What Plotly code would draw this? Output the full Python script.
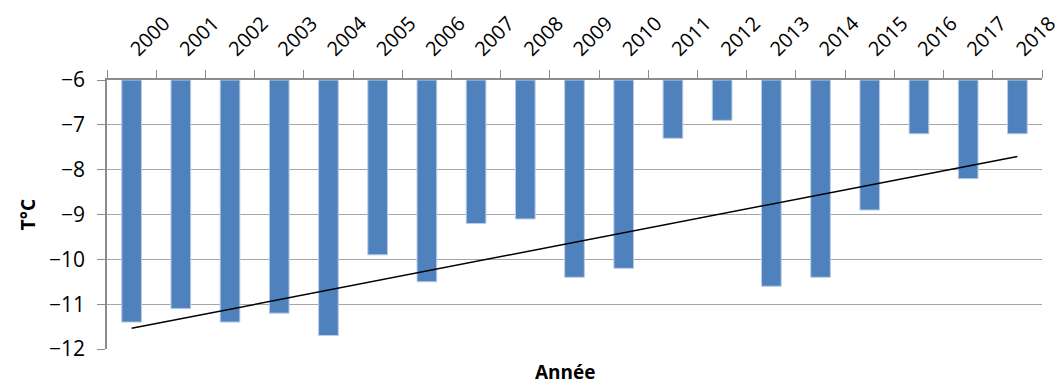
import numpy as np
import plotly.graph_objects as go

years = [str(y) for y in range(2000, 2019)]
temps = [-11.4, -11.1, -11.4, -11.2, -11.7, -9.9, -10.5, -9.2, -9.1, -10.4,
         -10.2, -7.3, -6.9, -10.6, -10.4, -8.9, -7.2, -8.2, -7.2]

# linear trend over the years, as Excel draws it
idx = np.arange(len(temps))
slope, intercept = np.polyfit(idx, temps, 1)
trend = slope * idx + intercept

font = "Open Sans, Noto Sans, sans-serif"

fig = go.Figure()
fig.add_trace(go.Bar(x=years, y=[t + 6 for t in temps], base=-6,
                     marker=dict(color="#4F81BD", line=dict(color="#B9CDE5", width=1)),
                     width=0.4, showlegend=False))
fig.add_trace(go.Scatter(x=years, y=trend, mode="lines",
                         line=dict(color="black", width=1.5), showlegend=False))

fig.update_layout(
    width=1062, height=387,
    margin=dict(l=107, r=20, t=80, b=38),
    plot_bgcolor="white", paper_bgcolor="white",
    font=dict(family=font, color="black"),
)
fig.update_xaxes(side="top", type="category", tickangle=-45, tickfont=dict(size=20),
                 automargin=False, ticklabelstandoff=10,
                 showline=True, linecolor="#8C8C8C", linewidth=1.5,
                 ticks="outside", tickson="boundaries", ticklen=8, tickcolor="#8C8C8C",
                 showgrid=False)
fig.update_yaxes(range=[-12, -6], dtick=1, tickfont=dict(size=21), automargin=False,
                 ticklabelstandoff=8,
                 showline=True, linecolor="#8C8C8C", linewidth=1.5,
                 ticks="outside", ticklen=8, tickcolor="#8C8C8C",
                 gridcolor="#A6A6A6", gridwidth=1, zeroline=False,
                 title=dict(text="<b>T°C</b>", font=dict(size=19), standoff=8))
fig.add_annotation(text="<b>Année</b>", xref="paper", yref="paper", x=0.49, y=0,
                   yshift=-8, yanchor="top", showarrow=False, font=dict(size=19))

# drop the page's default body margin so the figure sits at the window's corner
fig.write_html("out.html", config={"displayModeBar": False},
               post_script="document.body.style.margin='0';")
